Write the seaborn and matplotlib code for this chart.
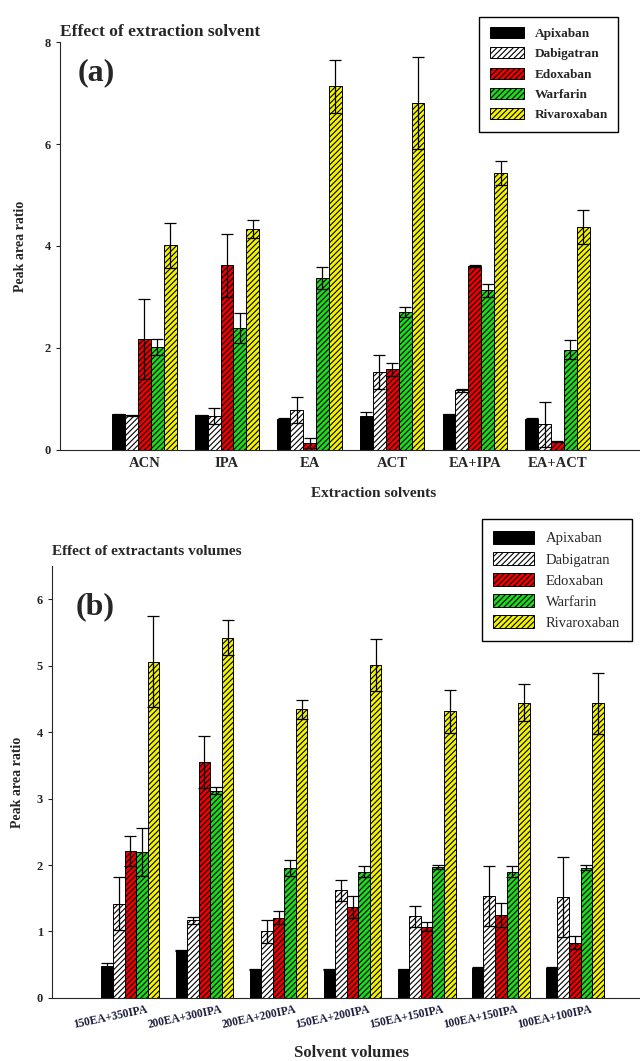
import numpy as np
import pandas as pd
import matplotlib
matplotlib.use("Agg")
import matplotlib.pyplot as plt
import matplotlib.transforms as mtransforms
import seaborn as sns

# drugs / styling of the series
drugs = ["Apixaban", "Dabigatran", "Edoxaban", "Warfarin", "Rivaroxaban"]
bar_colors = ["#000000", "#ffffff", "#ee0000", "#1ed81e", "#f4f400"]
bar_hatches = ["", "//////", "//////", "//////", "//////"]

# panel (a): effect of extraction solvent
solvents = ["ACN", "IPA", "EA", "ACT", "EA+IPA", "EA+ACT"]
a_apix = [0.70, 0.68, 0.61, 0.67, 0.70, 0.61]
a_dabi = [0.68, 0.66, 0.78, 1.53, 1.17, 0.50]
a_edox = [2.18, 3.62, 0.14, 1.58, 3.60, 0.16]
a_warf = [2.02, 2.39, 3.37, 2.70, 3.13, 1.97]
a_riva = [4.01, 4.33, 7.13, 6.80, 5.43, 4.37]
a_apix_err = [0.01, 0.01, 0.01, 0.07, 0.01, 0.01]
a_dabi_err = [0.01, 0.16, 0.26, 0.33, 0.03, 0.44]
a_edox_err = [0.78, 0.62, 0.10, 0.13, 0.02, 0.01]
a_warf_err = [0.16, 0.29, 0.21, 0.10, 0.13, 0.19]
a_riva_err = [0.44, 0.17, 0.52, 0.90, 0.24, 0.34]

# panel (b): effect of extractant volumes
volumes = ["150EA+350IPA", "200EA+300IPA", "200EA+200IPA", "150EA+200IPA",
           "150EA+150IPA", "100EA+150IPA", "100EA+100IPA"]
b_apix = [0.48, 0.71, 0.43, 0.43, 0.43, 0.45, 0.45]
b_dabi = [1.42, 1.17, 1.00, 1.62, 1.23, 1.53, 1.52]
b_edox = [2.21, 3.55, 1.21, 1.37, 1.07, 1.25, 0.83]
b_warf = [2.19, 3.12, 1.96, 1.90, 1.97, 1.90, 1.96]
b_riva = [5.06, 5.42, 4.34, 5.01, 4.31, 4.44, 4.43]
b_apix_err = [0.05, 0.01, 0.01, 0.01, 0.01, 0.01, 0.01]
b_dabi_err = [0.40, 0.05, 0.17, 0.16, 0.16, 0.45, 0.60]
b_edox_err = [0.23, 0.39, 0.10, 0.16, 0.07, 0.18, 0.10]
b_warf_err = [0.36, 0.05, 0.12, 0.08, 0.03, 0.08, 0.04]
b_riva_err = [0.68, 0.26, 0.14, 0.39, 0.32, 0.28, 0.46]

sns.set_style("ticks")
plt.rcParams["font.family"] = ["Liberation Serif", "DejaVu Serif"]
plt.rcParams["font.weight"] = "bold"
plt.rcParams["hatch.linewidth"] = 0.8


def draw_panel(ax, cats, series, errors):
    df = pd.DataFrame({
        "cat": np.tile(cats, len(drugs)),
        "drug": np.repeat(drugs, len(cats)),
        "value": np.concatenate(series),
    })
    sns.barplot(data=df, x="cat", y="value", hue="drug", hue_order=drugs,
                palette=bar_colors, width=0.78, errorbar=None, saturation=1,
                edgecolor="black", linewidth=0.7, legend=False, ax=ax)
    bars = list(ax.containers)
    for cont, hatch, err in zip(bars, bar_hatches, errors):
        xs = [p.get_x() + p.get_width() / 2 for p in cont]
        hs = [p.get_height() for p in cont]
        for p in cont:
            p.set_hatch(hatch)
        ax.errorbar(xs, hs, yerr=err, fmt="none", ecolor="black",
                    elinewidth=0.9, capsize=4, capthick=0.9, zorder=5)
    sns.despine(ax=ax)
    ax.set_ylabel("Peak area ratio", fontsize=10, fontweight="bold")
    return bars


fig = plt.figure(figsize=(6.4, 10.61), dpi=100)

# ---- (a)
ax1 = fig.add_axes([0.094, 0.5759, 0.906, 0.3845])
bars1 = draw_panel(ax1, solvents,
                   [a_apix, a_dabi, a_edox, a_warf, a_riva],
                   [a_apix_err, a_dabi_err, a_edox_err, a_warf_err, a_riva_err])
ax1.set_xlim(-1.02, 6.0)
ax1.set_ylim(0, 8)
ax1.set_yticks([0, 2, 4, 6, 8])
ax1.tick_params(axis="y", labelsize=9, length=3)
ax1.tick_params(axis="x", labelsize=10.5, length=0, pad=5)
ax1.set_xlabel("Extraction solvents", fontsize=11, fontweight="bold")
ax1.xaxis.set_label_coords(0.54, -0.09)
ax1.yaxis.set_label_coords(-0.058, 0.5)
ax1.set_title("Effect of extraction solvent", fontsize=12.5, fontweight="bold",
              loc="left", x=0.0, y=0.995)
ax1.text(0.03, 0.925, "(a)", transform=ax1.transAxes, fontsize=23,
         fontweight="bold", va="center")
leg1 = ax1.legend(bars1, drugs, loc="upper right",
                  bbox_to_anchor=(625 / 640, 1 - 10 / 1061),
                  bbox_transform=fig.transFigure, fancybox=False,
                  edgecolor="black", framealpha=1, handlelength=2.6,
                  handleheight=0.9, labelspacing=0.55, borderpad=0.8,
                  prop={"size": 9.5, "weight": "bold"})
leg1.get_frame().set_linewidth(1.0)

# ---- (b)
ax2 = fig.add_axes([0.081, 0.0594, 0.919, 0.4073])
bars2 = draw_panel(ax2, volumes,
                   [b_apix, b_dabi, b_edox, b_warf, b_riva],
                   [b_apix_err, b_dabi_err, b_edox_err, b_warf_err, b_riva_err])
ax2.set_xlim(-1.06, 6.88)
ax2.set_ylim(0, 6.5)
ax2.set_yticks([0, 1, 2, 3, 4, 5, 6])
ax2.tick_params(axis="y", labelsize=9, length=3)
ax2.tick_params(axis="x", labelsize=8.3, length=0, pad=14, labelcolor="#1c1c3c")
shift = mtransforms.ScaledTranslation(-0.2, 0, fig.dpi_scale_trans)
for lab in ax2.get_xticklabels():
    lab.set_rotation(12)
    lab.set_ha("center")
    lab.set_va("center")
    lab.set_rotation_mode("anchor")
    lab.set_transform(lab.get_transform() + shift)
ax2.set_xlabel("Solvent volumes", fontsize=12, fontweight="bold")
ax2.xaxis.set_label_coords(0.51, -0.108)
ax2.yaxis.set_label_coords(-0.048, 0.5)
ax2.set_title("Effect of extractants volumes", fontsize=11, fontweight="bold",
              loc="left", x=0.0, y=1.005)
ax2.text(0.04, 0.905, "(b)", transform=ax2.transAxes, fontsize=23,
         fontweight="bold", va="center")
leg2 = ax2.legend(bars2, drugs, loc="upper right",
                  bbox_to_anchor=(639 / 640, 1 - 512 / 1061),
                  bbox_transform=fig.transFigure, fancybox=False,
                  edgecolor="black", framealpha=1, handlelength=2.8,
                  handleheight=1.0, labelspacing=0.45, borderpad=0.8,
                  prop={"size": 10.5, "weight": "normal"})
leg2.get_frame().set_linewidth(1.0)

fig.savefig("out.png", dpi=100)
